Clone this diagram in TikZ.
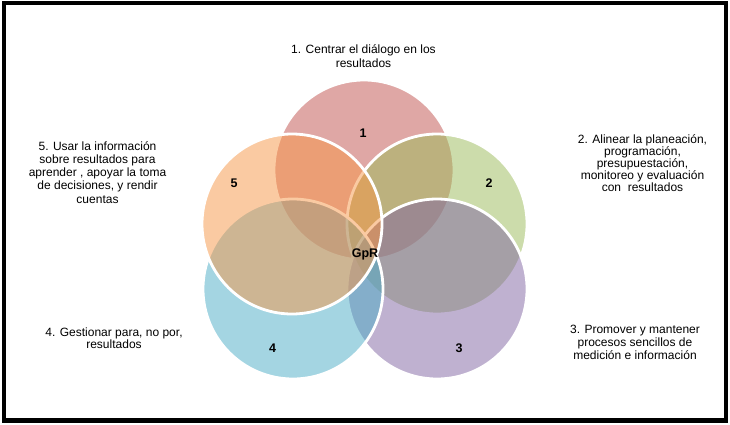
\documentclass[tikz,border=0pt]{standalone}
\usepackage{fontspec}
\setmainfont{Liberation Sans}
\definecolor{cA}{HTML}{C0504D}
\definecolor{cB}{HTML}{9BBB59}
\definecolor{cC}{HTML}{8064A2}
\definecolor{cD}{HTML}{4BACC6}
\definecolor{cE}{HTML}{F79646}
\tikzset{
  venn/.style={circle, minimum size=180pt, inner sep=0pt, fill=#1, fill opacity=0.5, draw=white, draw opacity=1, line width=2.8pt},
  lbl/.style={anchor=base, inner sep=0pt, font=\fontsize{12}{13}\selectfont, text=black},
  num/.style={anchor=base, inner sep=0pt, font=\fontsize{12.5}{13}\selectfont\bfseries, text=black}
}
\begin{document}
\begin{tikzpicture}[x=1pt, y=-1pt]
\useasboundingbox (0,0) rectangle (730,425);
\fill[white] (0,0) rectangle (730,425);
\draw[line width=4.3pt, black] (3.9,3) rectangle (726,420.5);
% circles
\node[venn=cA] (k1) at (364,170) {};
\node[venn=cB] (k2) at (437,224) {};
\node[venn=cC] (k3) at (437,289) {};
\node[venn=cD] (k4) at (293,289) {};
\node[venn=cE] (k5) at (292,224) {};
% numbers
\node[num] (n1) at (363,137) {1};
\node[num] (n2) at (489,187) {2};
\node[num] (n3) at (459,352) {3};
\node[num] (n4) at (272.5,352) {4};
\node[num] (n5) at (234,187) {5};
\node[num] (gpr) at (365,257) {GpR};
% label 1
\node[lbl] (l1a) at (363.5,53.3) {1. Centrar el diálogo en los};
\node[lbl] (l1b) at (363.5,67.7) {resultados};
% label 2
\node[lbl] (l2a) at (642.5,143.5) {2. Alinear la planeación,};
\node[lbl] (l2b) at (642.5,155.5) {programación,};
\node[lbl] (l2c) at (642.5,167.5) {presupuestación,};
\node[lbl] (l2d) at (642.5,179.5) {monitoreo y evaluación};
\node[lbl] (l2e) at (642.5,191.5) {con~ resultados};
% label 3
\node[lbl] (l3a) at (635,333.3) {3. Promover y mantener};
\node[lbl] (l3b) at (635,346.4) {procesos sencillos de};
\node[lbl] (l3c) at (635,359.5) {medición e información};
% label 4
\node[lbl] (l4a) at (114,336.7) {4. Gestionar para, no por,};
\node[lbl] (l4b) at (114,348.5) {resultados};
% label 5
\node[lbl] (l5a) at (97.5,150) {5. Usar la información};
\node[lbl] (l5b) at (97.5,163.3) {sobre resultados para};
\node[lbl] (l5c) at (97.5,176.6) {aprender , apoyar la toma};
\node[lbl] (l5d) at (97.5,189.9) {de decisiones, y rendir};
\node[lbl] (l5e) at (97.5,203.2) {cuentas};
\end{tikzpicture}
\end{document}
